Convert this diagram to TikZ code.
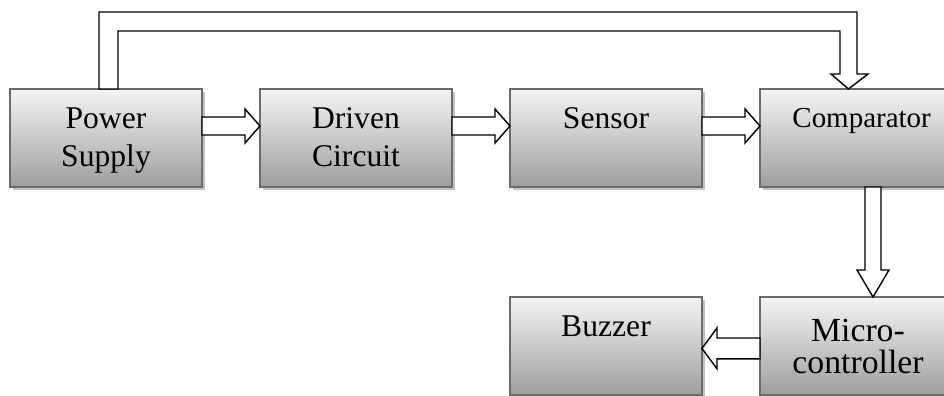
\documentclass[tikz,border=0pt]{standalone}
\usepackage{fontspec}
\setmainfont{Liberation Serif}
\usetikzlibrary{positioning, calc, shadows}
\definecolor{boxedge}{HTML}{6B6B6B}
\definecolor{boxtop}{HTML}{F4F4F4}
\definecolor{boxbottom}{HTML}{9E9E9E}
\definecolor{boxshadow}{HTML}{C2C2C2}
\tikzset{
  blockbox/.style={rectangle, minimum width=4.8cm, minimum height=2.45cm, outer sep=0pt,
                   draw=boxedge, line width=1.4pt, top color=boxtop, bottom color=boxbottom,
                   drop shadow={shadow xshift=0.075cm, shadow yshift=-0.075cm, fill=boxshadow, opacity=1}},
  boxtext/.style={align=center, inner sep=0pt, font=\fontsize{22.5}{27}\selectfont},
  smalltext/.style={boxtext, font=\fontsize{20.6}{24}\selectfont},
  bigtext/.style={boxtext, font=\fontsize{24}{22.5}\selectfont},
  % hollow block arrows, sized through these keys
  fatlen/.store in=\fatlen, fatlen=0.375cm,
  fatshaft/.store in=\fatshaft, fatshaft=0.225cm,
  fathead/.store in=\fathead, fathead=0.425cm,
  fatarrow/.style={draw=black, fill=white, line width=1pt, line join=miter},
  fath/.style={fatarrow, to path={let \p1=(\tikztostart), \p2=(\tikztotarget),
      \n1={ifthenelse(\x2>\x1,1,-1)} in
      (\x1,\y1+\fatshaft) -- (\x2-\n1*\fatlen,\y1+\fatshaft) -- (\x2-\n1*\fatlen,\y1+\fathead)
      -- (\x2,\y1) -- (\x2-\n1*\fatlen,\y1-\fathead) -- (\x2-\n1*\fatlen,\y1-\fatshaft)
      -- (\x1,\y1-\fatshaft) -- cycle}},
  fatv/.style={fatarrow, to path={let \p1=(\tikztostart), \p2=(\tikztotarget),
      \n1={ifthenelse(\y2>\y1,1,-1)} in
      (\x1+\fatshaft,\y1) -- (\x1+\fatshaft,\y2-\n1*\fatlen) -- (\x1+\fathead,\y2-\n1*\fatlen)
      -- (\x1,\y2) -- (\x1-\fathead,\y2-\n1*\fatlen) -- (\x1-\fatshaft,\y2-\n1*\fatlen)
      -- (\x1-\fatshaft,\y1) -- cycle}},
}
\begin{document}
\begin{tikzpicture}
  \useasboundingbox (0,0) rectangle (23.6,9.9);

  % blocks
  \node[blockbox] (ps) at (2.65,6.45) {};
  \node[blockbox, right=1.45cm of ps] (dc) {};
  \node[blockbox, right=1.45cm of dc] (sn) {};
  \node[blockbox, right=1.45cm of sn] (cmp) {};
  \node[blockbox, below=2.75cm of cmp] (mc) {};
  \node[blockbox, left=1.45cm of mc] (bz) {};

  % block texts, hung from the top edge
  \node[boxtext, below=0.46cm of ps.north] (ps-t) {Power\\Supply};
  \node[boxtext, below=0.46cm of dc.north] (dc-t) {Driven\\Circuit};
  \node[boxtext, below=0.46cm of sn.north] (sn-t) {Sensor};
  \node[smalltext, below=0.47cm of cmp.north, xshift=0.14cm] (cmp-t) {Comparator};
  \node[bigtext, below=0.55cm of mc.north, xshift=0.05cm] (mc-t) {Micro-\\controller};
  \node[boxtext, below=0.46cm of bz.north] (bz-t) {Buzzer};

  % signal chain
  \draw[fath] ([yshift=0.3cm]ps.east) to ([yshift=0.3cm]dc.west);
  \draw[fath] ([yshift=0.3cm]dc.east) to ([yshift=0.3cm]sn.west);
  \draw[fath] ([yshift=0.3cm]sn.east) to ([yshift=0.3cm]cmp.west);
  \draw[fatv, fatshaft=0.2cm, fathead=0.4cm, fatlen=0.675cm]
    ([xshift=0.425cm]cmp.south) to ([xshift=0.425cm]mc.north);
  \draw[fath, fatshaft=0.26cm, fathead=0.51cm]
    ([yshift=-0.06cm]mc.west) to ([yshift=-0.06cm]bz.east);

  % supply bus over the top into the comparator
  \draw[fatarrow] let \p1=(ps.north), \p2=(cmp.north) in
    (\x1-0.175cm,\y1) -- (\x1-0.175cm,\y1+1.925cm) -- (\x2+0.025cm,\y1+1.925cm)
    -- (\x2+0.025cm,\y2+0.375cm) -- (\x2+0.3cm,\y2+0.375cm) -- (\x2-0.1875cm,\y2)
    -- (\x2-0.625cm,\y2+0.375cm) -- (\x2-0.4cm,\y2+0.375cm) -- (\x2-0.4cm,\y1+1.45cm)
    -- (\x1+0.3cm,\y1+1.45cm) -- (\x1+0.3cm,\y1) -- cycle;
\end{tikzpicture}
\end{document}
